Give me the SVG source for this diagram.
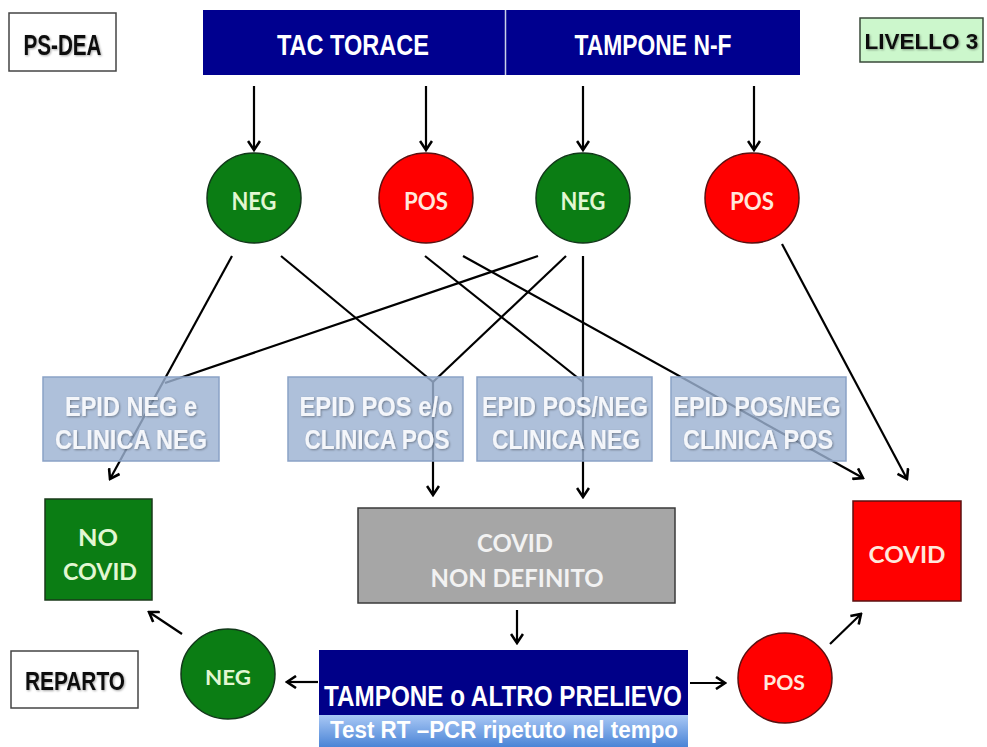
<svg xmlns="http://www.w3.org/2000/svg" width="987" height="747" viewBox="0 0 987 747">
<defs>
<marker id="arr" viewBox="-10 -7 12 14" refX="0" refY="0" markerWidth="12" markerHeight="14" markerUnits="userSpaceOnUse" orient="auto">
<path d="M-9,-6 L0,0 L-9,6" fill="none" stroke="#000" stroke-width="2.6"/>
</marker>
<linearGradient id="lb" x1="0" y1="0" x2="0" y2="1">
<stop offset="0" stop-color="#a9c8f5"/>
<stop offset="1" stop-color="#4a84d6"/>
</linearGradient>
<filter id="sh" x="-10%" y="-20%" width="120%" height="140%">
<feDropShadow dx="1" dy="1" stdDeviation="0.8" flood-color="#000" flood-opacity="0.35"/>
</filter>
</defs>
<style>
.n{font-family:"Liberation Sans",Arial,sans-serif;font-weight:bold;}
.c{font-family:Lato,"Open Sans",sans-serif;font-weight:bold;}
.blk{fill:#111;}
.wht{fill:#fff;}
.ep{fill:#f4f6fa;}
.lbl{fill:#fff;stroke:#444;stroke-width:1.5;}
.epid{fill:#9cb2d2;fill-opacity:0.82;stroke:#8aa2c6;stroke-width:1.5;}
.gc{fill:#0b7d14;stroke:#12381a;stroke-width:1.5;}
.rc{fill:#ff0000;stroke:#5a1010;stroke-width:1.5;}
.gt{fill:#e2f7d2;}
.rt{fill:#ffe8dc;}
.con line{stroke:#000;stroke-width:2.2;fill:none;}
.ah{marker-end:url(#arr);}
</style>
<rect width="987" height="747" fill="#fff"/>

<g id="connectors" class="con">
<line class="ah" x1="254" y1="86" x2="254" y2="150"/>
<line class="ah" x1="426" y1="86" x2="426" y2="150"/>
<line class="ah" x1="583" y1="86" x2="583" y2="150"/>
<line class="ah" x1="754" y1="86" x2="754" y2="150"/>
<line class="ah" x1="232" y1="256" x2="110" y2="479"/>
<line x1="281" y1="256" x2="433" y2="382"/>
<line x1="538" y1="256" x2="165" y2="383"/>
<line x1="566" y1="256" x2="433" y2="382"/>
<line class="ah" x1="433" y1="382" x2="433" y2="495"/>
<line x1="425" y1="256" x2="583" y2="382"/>
<line class="ah" x1="583" y1="256" x2="583" y2="497"/>
<line class="ah" x1="463" y1="256" x2="863" y2="478"/>
<line class="ah" x1="782" y1="244" x2="907" y2="479"/>
<line class="ah" x1="517" y1="610" x2="517" y2="643"/>
<line class="ah" x1="318" y1="682" x2="287" y2="682"/>
<line class="ah" x1="182" y1="634" x2="149" y2="612"/>
<line class="ah" x1="690" y1="683" x2="725" y2="683"/>
<line class="ah" x1="830" y1="644" x2="861" y2="614"/>
</g>

<g id="ps-dea">
<rect class="lbl" x="9" y="13" width="107" height="58"/>
<text class="n blk" x="62.5" y="55" font-size="30" text-anchor="middle" textLength="78" lengthAdjust="spacingAndGlyphs" filter="url(#sh)">PS-DEA</text>
</g>

<g id="tac-torace">
<rect x="203" y="10" width="302" height="65" fill="#00008f"/>
<text class="n wht" x="353" y="55" font-size="30" text-anchor="middle" textLength="152" lengthAdjust="spacingAndGlyphs">TAC TORACE</text>
</g>
<g id="tampone-nf">
<rect x="505" y="10" width="295" height="65" fill="#00008f"/>
<text class="n wht" x="653" y="55" font-size="30" text-anchor="middle" textLength="157" lengthAdjust="spacingAndGlyphs">TAMPONE N-F</text>
</g>
<line x1="505.5" y1="10" x2="505.5" y2="75" stroke="#c8d0e8" stroke-width="1.5"/>

<g id="livello3">
<rect x="860" y="18" width="123" height="44" fill="#ccf7cc" stroke="#3a4a3a" stroke-width="1.5"/>
<text class="n blk" x="921.5" y="49" font-size="22.5" text-anchor="middle" filter="url(#sh)">LIVELLO 3</text>
</g>

<g id="neg1">
<ellipse class="gc" cx="254" cy="198" rx="47" ry="45"/>
<text class="c gt" x="254" y="210" font-size="24" text-anchor="middle" textLength="45" lengthAdjust="spacingAndGlyphs">NEG</text>
</g>
<g id="pos1">
<ellipse class="rc" cx="426" cy="198" rx="47" ry="45"/>
<text class="c rt" x="426" y="210" font-size="24" text-anchor="middle" textLength="44" lengthAdjust="spacingAndGlyphs">POS</text>
</g>
<g id="neg2">
<ellipse class="gc" cx="583" cy="198" rx="47" ry="45"/>
<text class="c gt" x="583" y="210" font-size="24" text-anchor="middle" textLength="45" lengthAdjust="spacingAndGlyphs">NEG</text>
</g>
<g id="pos2">
<ellipse class="rc" cx="752" cy="198" rx="47" ry="45"/>
<text class="c rt" x="752" y="210" font-size="24" text-anchor="middle" textLength="44" lengthAdjust="spacingAndGlyphs">POS</text>
</g>

<g id="epid1">
<rect class="epid" x="43" y="377" width="176" height="84"/>
<text class="n ep" x="131" y="416" font-size="28" text-anchor="middle" textLength="132" lengthAdjust="spacingAndGlyphs" filter="url(#sh)">EPID NEG e</text>
<text class="n ep" x="131" y="449" font-size="28" text-anchor="middle" textLength="152" lengthAdjust="spacingAndGlyphs" filter="url(#sh)">CLINICA NEG</text>
</g>
<g id="epid2">
<rect class="epid" x="288" y="377" width="175" height="84"/>
<text class="n ep" x="376" y="416" font-size="28" text-anchor="middle" textLength="153" lengthAdjust="spacingAndGlyphs" filter="url(#sh)">EPID POS e/o</text>
<text class="n ep" x="377" y="449" font-size="28" text-anchor="middle" textLength="145" lengthAdjust="spacingAndGlyphs" filter="url(#sh)">CLINICA POS</text>
</g>
<g id="epid3">
<rect class="epid" x="477" y="377" width="175" height="84"/>
<text class="n ep" x="565" y="416" font-size="28" text-anchor="middle" textLength="166" lengthAdjust="spacingAndGlyphs" filter="url(#sh)">EPID POS/NEG</text>
<text class="n ep" x="566" y="449" font-size="28" text-anchor="middle" textLength="148" lengthAdjust="spacingAndGlyphs" filter="url(#sh)">CLINICA NEG</text>
</g>
<g id="epid4">
<rect class="epid" x="671" y="377" width="175" height="84"/>
<text class="n ep" x="757" y="416" font-size="28" text-anchor="middle" textLength="167" lengthAdjust="spacingAndGlyphs" filter="url(#sh)">EPID POS/NEG</text>
<text class="n ep" x="758" y="449" font-size="28" text-anchor="middle" textLength="150" lengthAdjust="spacingAndGlyphs" filter="url(#sh)">CLINICA POS</text>
</g>

<g id="no-covid">
<rect x="45" y="499" width="107" height="101" fill="#0b7d14" stroke="#1a3a1a" stroke-width="1.5"/>
<text class="c gt" x="98" y="546" font-size="22" text-anchor="middle" textLength="40" lengthAdjust="spacingAndGlyphs">NO</text>
<text class="c gt" x="100" y="580" font-size="23" text-anchor="middle" textLength="74" lengthAdjust="spacingAndGlyphs">COVID</text>
</g>

<g id="covid-non-definito">
<rect x="358" y="508" width="317" height="95" fill="#a6a6a6" stroke="#3a3a3a" stroke-width="1.5"/>
<text class="c" fill="#f2f2f2" x="515" y="552" font-size="25" text-anchor="middle" textLength="76" lengthAdjust="spacingAndGlyphs">COVID</text>
<text class="c" fill="#f2f2f2" x="517" y="587" font-size="25" text-anchor="middle" textLength="173" lengthAdjust="spacingAndGlyphs">NON DEFINITO</text>
</g>

<g id="covid">
<rect x="853" y="501" width="108" height="100" fill="#ff0000" stroke="#5a1010" stroke-width="1.5"/>
<text class="c rt" x="907" y="563" font-size="23" text-anchor="middle" textLength="77" lengthAdjust="spacingAndGlyphs">COVID</text>
</g>

<g id="tampone-altro">
<rect x="319" y="650" width="369" height="65" fill="#000088"/>
<rect x="319" y="715" width="369" height="32" fill="url(#lb)"/>
<text class="n wht" x="503" y="706" font-size="29" text-anchor="middle" textLength="358" lengthAdjust="spacingAndGlyphs">TAMPONE o ALTRO PRELIEVO</text>
<text class="n wht" x="504" y="738" font-size="23" text-anchor="middle" textLength="348" lengthAdjust="spacingAndGlyphs">Test RT –PCR ripetuto nel tempo</text>
</g>

<g id="neg3">
<ellipse class="gc" cx="228" cy="674" rx="47" ry="45"/>
<text class="c gt" x="228" y="685" font-size="21" text-anchor="middle" textLength="46" lengthAdjust="spacingAndGlyphs">NEG</text>
</g>
<g id="pos3">
<ellipse class="rc" cx="785" cy="678" rx="47" ry="45"/>
<text class="c rt" x="784" y="690" font-size="21" text-anchor="middle" textLength="42" lengthAdjust="spacingAndGlyphs">POS</text>
</g>

<g id="reparto">
<rect class="lbl" x="11" y="651" width="127" height="57"/>
<text class="n blk" x="75" y="690" font-size="26" text-anchor="middle" textLength="100" lengthAdjust="spacingAndGlyphs" filter="url(#sh)">REPARTO</text>
</g>
</svg>
